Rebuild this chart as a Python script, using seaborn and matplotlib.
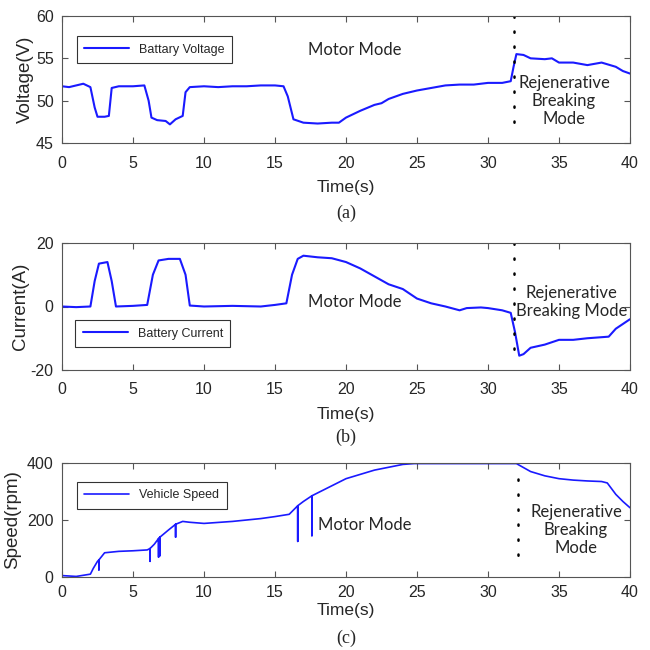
import numpy as np
import pandas as pd
import matplotlib
matplotlib.use("Agg")
import matplotlib.pyplot as plt
from matplotlib import font_manager
import seaborn as sns

# ---------------- data ----------------
volt_t = [0, 0.5, 1, 1.5, 2.0, 2.3, 2.5, 3.0, 3.3, 3.5, 4, 5, 5.8, 6.1, 6.3, 6.7, 7.3, 7.6, 8.0, 8.5, 8.7, 9,
          10, 11, 12, 13, 14, 15, 15.6, 15.9, 16.3, 17, 18, 19, 19.5, 20, 21, 22, 22.5, 23, 24, 25, 26, 27,
          28, 29, 30, 31, 31.6, 31.8, 32, 32.5, 33, 34, 34.5, 35, 36, 37, 38, 39, 39.5, 40]
volt_v = [51.7, 51.6, 51.8, 52.0, 51.6, 49.2, 48.1, 48.1, 48.2, 51.5, 51.7, 51.7, 51.8, 50.0, 48.0, 47.7, 47.6,
          47.2, 47.8, 48.2, 51.0, 51.6, 51.7, 51.6, 51.7, 51.7, 51.8, 51.8, 51.7, 50.5, 47.8, 47.4, 47.3,
          47.4, 47.4, 48.0, 48.8, 49.5, 49.7, 50.2, 50.8, 51.2, 51.5, 51.8, 51.9, 51.9, 52.1, 52.1, 52.3,
          54.0, 55.5, 55.4, 55.0, 54.9, 55.0, 54.5, 54.5, 54.2, 54.5, 54.0, 53.5, 53.2]

curr_t = [0, 1, 2, 2.3, 2.6, 3.2, 3.5, 3.8, 5, 6.0, 6.4, 6.8, 7.5, 8.3, 8.7, 9.0, 10, 12, 14, 15, 15.8,
          16.2, 16.6, 17, 18, 19, 20, 21, 22, 23, 24, 25, 26, 27, 28, 28.5, 29.5, 30, 31, 31.6, 31.9,
          32.2, 32.5, 33, 34, 35, 36, 37, 38.5, 39, 39.5, 40]
curr_v = [0, -0.2, 0, 8, 13.5, 14, 8, 0, 0.2, 0.5, 10, 14.5, 15, 15, 10, 0.3, 0, 0.2, 0, 0.5, 1,
          10, 15, 16, 15.5, 15.2, 14, 12, 9.5, 7, 5.5, 2.5, 1.0, 0, -1.2, -0.5, -0.3, -0.5, -1.2, -2, -8,
          -15.5, -15, -13, -12, -10.5, -10.5, -10, -9.5, -7, -5.5, -4]

speed_t = [0, 1, 2, 2.2, 2.5, 2.6, 2.6, 2.6, 3, 4, 5, 6, 6.2, 6.2, 6.2, 6.5, 6.8, 6.8, 6.8, 6.9, 6.9, 6.9,
           7.5, 8.0, 8.0, 8.0, 8.5, 9, 10, 12, 14, 15, 16, 16.6, 16.6, 16.6, 17, 17.6, 17.6, 17.6, 18, 19,
           20, 21, 22, 23, 24, 24.8, 26, 28, 30, 32, 33, 34, 35, 36, 37, 38, 38.4, 39, 39.5, 40]
speed_v = [5, 2, 10, 30, 55, 60, 25, 60, 85, 90, 92, 95, 100, 55, 100, 115, 135, 70, 135, 140, 75, 140,
           165, 185, 140, 185, 195, 192, 188, 195, 205, 212, 220, 250, 125, 250, 265, 285, 145, 285, 295, 320,
           345, 360, 375, 385, 395, 398, 398, 398, 398, 398, 370, 355, 345, 340, 337, 335, 330, 290, 265, 243]

xticks = [0, 5, 10, 15, 20, 25, 30, 35, 40]


def pick(names):
    out = []
    for n in names:
        try:
            font_manager.findfont(n, fallback_to_default=False)
            out.append(n)
        except Exception:
            pass
    return out + ['DejaVu Sans']


# ---------------- style ----------------
sns.set_style("ticks")
plt.rcParams['font.family'] = pick(['Liberation Sans Narrow', 'Liberation Sans', 'Arial'])
plt.rcParams['axes.unicode_minus'] = False
plt.rcParams['xtick.direction'] = 'in'
plt.rcParams['ytick.direction'] = 'in'
plt.rcParams['xtick.top'] = True
plt.rcParams['ytick.right'] = True

BLUE = '#1a1aff'
fig = plt.figure(figsize=(6.5, 6.5), dpi=100)

L, W = 62 / 650, 568 / 650
axa = fig.add_axes([L, 1 - 143 / 650, W, 127 / 650])
axb = fig.add_axes([L, 1 - 370 / 650, W, 127 / 650])
axc = fig.add_axes([L, 1 - 577 / 650, W, 114 / 650])

dfa = pd.DataFrame({'t': volt_t, 'v': volt_v})
dfb = pd.DataFrame({'t': curr_t, 'v': curr_v})
dfc = pd.DataFrame({'t': speed_t, 'v': speed_v})

sns.lineplot(data=dfa, x='t', y='v', ax=axa, color=BLUE, lw=1.5, label='Battary Voltage',
             sort=False, estimator=None)
sns.lineplot(data=dfb, x='t', y='v', ax=axb, color=BLUE, lw=1.5, label='Battery Current',
             sort=False, estimator=None)
sns.lineplot(data=dfc, x='t', y='v', ax=axc, color=BLUE, lw=1.2, label='Vehicle Speed',
             sort=False, estimator=None)

ann_font = pick(['Lato', 'Open Sans'])

def setup(ax, ylim, yticks, ylabel, caption, loc, bbox, ylpad, xpad, xlpad, cap_y):
    ax.set_xlim(0, 40)
    ax.set_ylim(*ylim)
    ax.set_xticks(xticks)
    ax.set_yticks(yticks)
    ax.tick_params(labelsize=11.5, length=4, color='#555555')
    ax.tick_params(axis='x', pad=xpad)
    ax.tick_params(axis='y', pad=6)
    for s in ax.spines.values():
        s.set_color('#555555')
        s.set_linewidth(0.8)
    ax.set_xlabel('Time(s)', fontsize=12.5, labelpad=xlpad)
    ax.set_ylabel(ylabel, fontsize=13.5, labelpad=ylpad)
    leg = ax.legend(loc=loc, bbox_to_anchor=bbox, fontsize=9, frameon=True, fancybox=False,
                    edgecolor='black', handlelength=3.6, borderpad=0.6)
    leg.get_frame().set_linewidth(0.8)
    ax.text(0.5, cap_y, caption, transform=ax.transAxes, ha='center', va='center',
            fontsize=13, family=['Liberation Serif', 'DejaVu Serif'])

setup(axa, (45, 60), [45, 50, 55, 60], 'Voltage(V)', '(a)', 'upper left', (0.015, 0.89), 1, 9, 7, -0.55)
setup(axb, (-20, 20), [-20, 0, 20], 'Current(A)', '(b)', 'lower left', (0.012, 0.13), 1, 9, 7, -0.53)
setup(axc, (0, 400), [0, 200, 400], 'Speed(rpm)', '(c)', 'upper left', (0.015, 0.89), 4, 6, 2, -0.54)

# dotted mode separators
dot = dict(color='black', lw=1.8, linestyle=(0, (0.5, 5.5)), dash_capstyle='round')
axa.plot([31.8, 31.8], [60, 46.3], **dot)
axb.plot([31.8, 31.8], [20, -16], **dot)
axc.plot([32.1, 32.1], [345, 40], **dot)

# annotations
axa.text(20.6, 56.0, 'Motor Mode', ha='center', va='center', fontsize=12, family=ann_font)
axa.text(35.35, 50.0, 'Rejenerative\nBreaking\nMode', ha='center', va='center', fontsize=12,
         family=ann_font, linespacing=1.15)
axb.text(20.6, 1.5, 'Motor Mode', ha='center', va='center', fontsize=12, family=ann_font)
axb.text(35.9, 1.5, 'Rejenerative\nBreaking Mode', ha='center', va='center', fontsize=12,
         family=ann_font, linespacing=1.15)
axc.text(18.0, 182, 'Motor Mode', ha='left', va='center', fontsize=12, family=ann_font)
axc.text(36.2, 165, 'Rejenerative\nBreaking\nMode', ha='center', va='center', fontsize=12,
         family=ann_font, linespacing=1.15)

fig.savefig('out.png', dpi=100)
